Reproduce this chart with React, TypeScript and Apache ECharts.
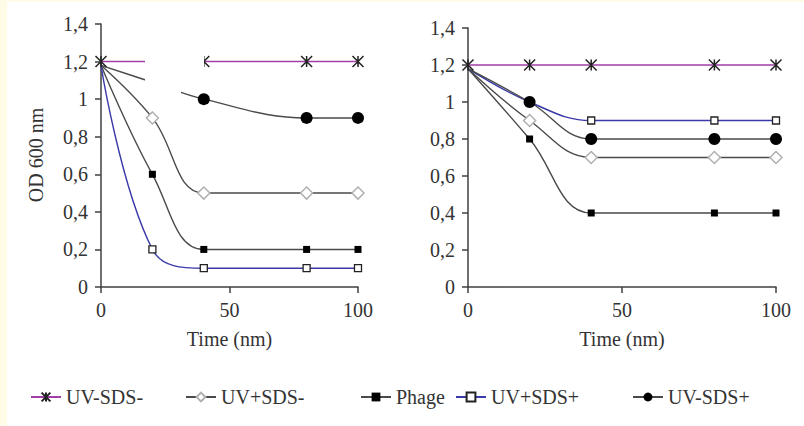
import React, { useEffect, useRef } from "react";
import * as echarts from "echarts";

const times = [0, 20, 40, 80, 100];
const seriesNames = ["UV-SDS-", "UV+SDS-", "Phage", "UV+SDS+", "UV-SDS+"];

// Left panel
const leftUvMinusSdsMinus = [1.2, 1.2, 1.2, 1.2, 1.2];
const leftUvPlusSdsMinus = [1.18, 0.9, 0.5, 0.5, 0.5];
const leftPhage = [1.18, 0.6, 0.2, 0.2, 0.2];
const leftUvPlusSdsPlus = [1.18, 0.2, 0.1, 0.1, 0.1];
const leftUvMinusSdsPlus = [1.18, 1.09, 1.0, 0.9, 0.9];

// Right panel
const rightUvMinusSdsMinus = [1.2, 1.2, 1.2, 1.2, 1.2];
const rightUvPlusSdsMinus = [1.18, 0.9, 0.7, 0.7, 0.7];
const rightPhage = [1.18, 0.8, 0.4, 0.4, 0.4];
const rightUvPlusSdsPlus = [1.18, 1.0, 0.9, 0.9, 0.9];
const rightUvMinusSdsPlus = [1.18, 1.0, 0.8, 0.8, 0.8];

const yTickLabels = ["0", "0,2", "0,4", "0,6", "0,8", "1", "1,2", "1,4"];
const xTickLabels = ["0", "50", "100"];

const FONT = "'Liberation Serif', 'DejaVu Serif', serif";
const TXT = "#333";
const FS = 20;

const starPath = "path://M0,0L10,10M0,10L10,0M5,0L5,10";

const styles: Record<string, any> = {
  "UV-SDS-": {
    symbol: starPath,
    symbolSize: 11,
    lineStyle: { color: "#A040A8", width: 1.5 },
    itemStyle: { color: "rgba(0,0,0,0)", borderColor: "#222", borderWidth: 1.5 },
  },
  "UV+SDS-": {
    symbol: "diamond",
    symbolSize: 12,
    lineStyle: { color: "#4a4a4a", width: 1.4 },
    itemStyle: { color: "#fff", borderColor: "#b0b0b0", borderWidth: 1.5 },
  },
  Phage: {
    symbol: "rect",
    symbolSize: 7,
    lineStyle: { color: "#4a4a4a", width: 1.4 },
    itemStyle: { color: "#000", borderColor: "#000", borderWidth: 0 },
  },
  "UV+SDS+": {
    symbol: "rect",
    symbolSize: 7,
    lineStyle: { color: "#3a3aa8", width: 1.4 },
    itemStyle: { color: "#fff", borderColor: "#222", borderWidth: 1.3 },
  },
  "UV-SDS+": {
    symbol: "circle",
    symbolSize: 12,
    lineStyle: { color: "#4a4a4a", width: 1.4 },
    itemStyle: { color: "#000", borderColor: "#000", borderWidth: 0 },
  },
};

function buildData(vals: number[], hideFirst: boolean) {
  return vals.map((v, i) =>
    i === 0 && hideFirst ? { value: [times[i], v], symbol: "none" } : { value: [times[i], v] }
  );
}

function makeSeries(panel: number, sets: number[][]) {
  return sets.map((vals, k) => {
    const name = seriesNames[k];
    return {
      type: "line",
      name,
      xAxisIndex: panel,
      yAxisIndex: panel,
      smooth: 0.4,
      data: buildData(vals, name !== "UV-SDS-"),
      ...styles[name],
    };
  });
}

function yAxis(gridIndex: number) {
  return {
    type: "value",
    gridIndex,
    min: 0,
    max: 1.4,
    interval: 0.2,
    splitLine: { show: false },
    axisLine: { show: true, lineStyle: { color: "#404040", width: 1.5 } },
    axisTick: { show: true, length: 6, lineStyle: { color: "#404040", width: 1.5 } },
    axisLabel: {
      margin: 13,
      fontFamily: FONT,
      fontSize: FS,
      color: TXT,
      formatter: (v: number) => yTickLabels[Math.round(v / 0.2)] ?? "",
    },
  };
}

function xAxis(gridIndex: number) {
  return {
    type: "value",
    gridIndex,
    min: 0,
    max: 100,
    interval: 50,
    splitLine: { show: false },
    name: "Time (nm)",
    nameLocation: "middle",
    nameGap: 42,
    nameTextStyle: { fontFamily: FONT, fontSize: FS, color: TXT },
    axisLine: { show: true, onZero: false, lineStyle: { color: "#404040", width: 1.5 } },
    axisTick: { show: true, length: 6, lineStyle: { color: "#404040", width: 1.5 } },
    axisLabel: {
      margin: 13,
      fontFamily: FONT,
      fontSize: FS,
      color: TXT,
      formatter: (v: number) => xTickLabels[Math.round(v / 50)] ?? "",
    },
  };
}

const legendLefts = [30, 185, 360, 455, 632];

export default function App() {
  const ref = useRef<HTMLDivElement>(null);
  useEffect(() => {
    if (!ref.current) return;
    const chart = echarts.init(ref.current, undefined, { renderer: "svg" });
    chart.setOption({
      animation: false,
      backgroundColor: "#ffffff",
      grid: [
        { left: 101, top: 24, width: 257, height: 263 },
        { left: 468, top: 28, width: 308, height: 259 },
      ],
      xAxis: [xAxis(0), xAxis(1)],
      yAxis: [yAxis(0), yAxis(1)],
      legend: seriesNames.map((n, i) => ({
        data: [n],
        left: legendLefts[i],
        top: 387,
        padding: 0,
        itemWidth: 30,
        itemHeight: 11,
        itemGap: 0,
        selectedMode: false,
        textStyle: { fontFamily: FONT, fontSize: FS, color: TXT },
      })),
      series: [
        ...makeSeries(0, [
          leftUvMinusSdsMinus,
          leftUvPlusSdsMinus,
          leftPhage,
          leftUvPlusSdsPlus,
          leftUvMinusSdsPlus,
        ]),
        ...makeSeries(1, [
          rightUvMinusSdsMinus,
          rightUvPlusSdsMinus,
          rightPhage,
          rightUvPlusSdsPlus,
          rightUvMinusSdsPlus,
        ]),
      ],
      graphic: [
        {
          type: "polygon",
          z: 100,
          shape: {
            points: [
              [145, 52],
              [204, 52],
              [204, 70],
              [181, 82],
              [181, 96],
              [145, 88],
            ],
          },
          style: { fill: "#ffffff" },
        },
        { type: "rect", z: 100, shape: { x: 0, y: 0, width: 7, height: 426 }, style: { fill: "#FFFBE6" } },
        { type: "rect", z: 100, shape: { x: 0, y: 0, width: 804, height: 2 }, style: { fill: "#FFFBE6" } },
        {
          type: "text",
          z: 100,
          x: 36,
          y: 155,
          rotation: Math.PI / 2,
          style: {
            text: "OD 600 nm",
            fontFamily: FONT,
            fontSize: FS,
            fill: TXT,
            textAlign: "center",
            textVerticalAlign: "middle",
          },
        },
      ],
    });
    return () => chart.dispose();
  }, []);
  return (
    <div
      ref={ref}
      style={{ position: "fixed", left: 0, top: 0, width: 804, height: 426 }}
    />
  );
}
